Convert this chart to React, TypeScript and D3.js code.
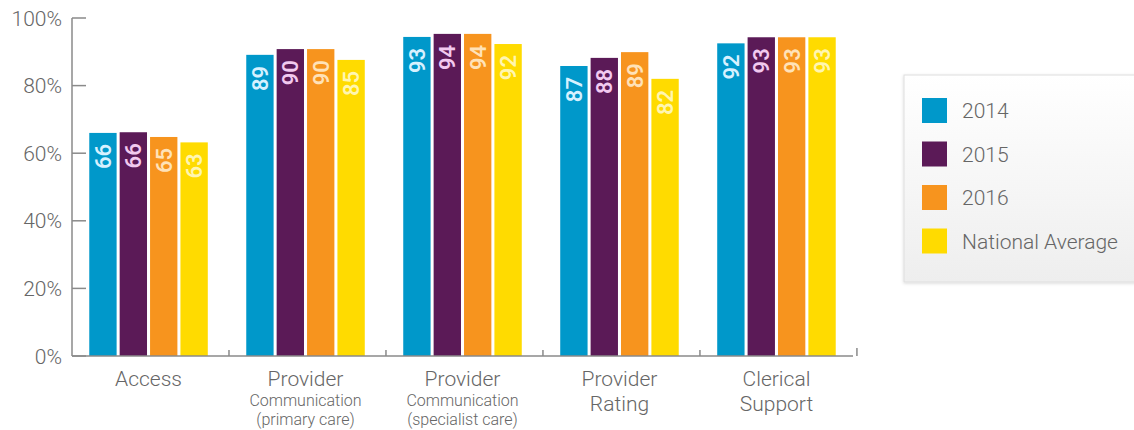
import * as React from 'react';
import * as d3 from 'd3';

// categories along the x axis (first line, optional smaller second/third lines)
const categories = ['Access', 'Provider Communication (primary care)', 'Provider Communication (specialist care)', 'Provider Rating', 'Clerical Support'];
const categoryLines: Array<Array<{ text: string, small: boolean }>> = [
    [{ text: 'Access', small: false }],
    [{ text: 'Provider', small: false }, { text: 'Communication', small: true }, { text: '(primary care)', small: true }],
    [{ text: 'Provider', small: false }, { text: 'Communication', small: true }, { text: '(specialist care)', small: true }],
    [{ text: 'Provider', small: false }, { text: 'Rating', small: false }],
    [{ text: 'Clerical', small: false }, { text: 'Support', small: false }],
];

const seriesNames = ['2014', '2015', '2016', 'National Average'];
const seriesColors = ['#0098ca', '#5b1a57', '#f7941e', '#ffdb00'];
const labelColors = ['#d6f1ff', '#f2c9ef', '#ffe2b8', '#fff6b0'];

// bar heights as drawn
const values2014 = [66.0, 89.1, 94.4, 85.8, 92.5];
const values2015 = [66.2, 90.8, 95.3, 88.2, 94.3];
const values2016 = [64.8, 90.8, 95.3, 89.9, 94.3];
const valuesNational = [63.2, 87.6, 92.3, 82.0, 94.3];

// numbers printed in the bars
const labels2014 = [66, 89, 93, 87, 92];
const labels2015 = [66, 90, 94, 88, 93];
const labels2016 = [65, 90, 94, 89, 93];
const labelsNational = [63, 85, 92, 82, 93];

const yTicks = [0, 20, 40, 60, 80, 100];

const seriesValues = [values2014, values2015, values2016, valuesNational];
const seriesLabels = [labels2014, labels2015, labels2016, labelsNational];

const width = 1134;
const height = 430;
const plot = { left: 72, right: 853, top: 18, bottom: 356 };
const font = 'Roboto, "Open Sans", sans-serif';
const axisColor = '#8a8a8a';
const textColor = '#666';

export default function App() {
    React.useEffect(() => {
        document.body.style.margin = '0';
    }, []);

    const x = d3.scaleBand<string>()
        .domain(categories)
        .range([plot.left, plot.right])
        .paddingInner(0.245)
        .paddingOuter(0.11);

    const xInner = d3.scaleBand<string>()
        .domain(seriesNames)
        .range([0, x.bandwidth()])
        .paddingInner(0.1)
        .paddingOuter(0);

    const y = d3.scaleLinear()
        .domain([0, 100])
        .range([plot.bottom, plot.top]);

    const step = x.step();
    const boundaries = categories.map((c, i) => plot.left + step * (i + 1));

    return <svg width={width} height={height} style={{ display: 'block', background: '#fff' }}>
        <defs>
            <linearGradient id="legendBg" x1="0" y1="0" x2="0" y2="1">
                <stop offset="0" stopColor="#ffffff" />
                <stop offset="1" stopColor="#eeeeee" />
            </linearGradient>
            <filter id="legendShadow" x="-10%" y="-10%" width="120%" height="125%">
                <feDropShadow dx="0" dy="1" stdDeviation="1.5" floodColor="#000" floodOpacity="0.15" />
            </filter>
        </defs>

        {/* y axis */}
        <g>
            <line x1={plot.left} x2={plot.left} y1={y(100)} y2={plot.bottom} stroke={axisColor} strokeWidth={1.5} />
            {yTicks.map(t => <g key={t}>
                <line x1={plot.left} x2={plot.left + 14} y1={y(t)} y2={y(t)} stroke={axisColor} strokeWidth={1.5} />
                <text x={62} y={y(t)} dy="0.36em" textAnchor="end" fontFamily={font} fontSize={21}
                    fontWeight={300} fill={textColor}>{t}%</text>
            </g>)}
        </g>

        {/* bars */}
        {categories.map((c, ci) => <g key={c} transform={`translate(${x(c)},0)`}>
            {seriesNames.map((s, si) => {
                const v = seriesValues[si][ci];
                const bx = xInner(s) as number;
                const bw = xInner.bandwidth();
                return <g key={s}>
                    <rect x={bx} y={y(v)} width={bw} height={plot.bottom - y(v)} fill={seriesColors[si]} />
                    <text transform={`translate(${bx + bw / 2},${y(v) + 11}) rotate(-90)`}
                        textAnchor="end" dy="0.36em" fontFamily={font} fontSize={22} fontWeight={600}
                        fill={labelColors[si]}>{seriesLabels[si][ci]}</text>
                </g>;
            })}
        </g>)}

        {/* x axis */}
        <g>
            <line x1={plot.left} x2={plot.right} y1={plot.bottom} y2={plot.bottom} stroke={axisColor} strokeWidth={1.5} />
            {boundaries.map((bx, i) => <line key={i} x1={bx} x2={bx} y1={plot.bottom}
                y2={plot.bottom - (i === boundaries.length - 1 ? 8 : 6)} stroke={axisColor} strokeWidth={1.5} />)}
            {categories.map((c, ci) => {
                const cx = (x(c) as number) + x.bandwidth() / 2;
                let yy = 378;
                return <g key={c}>
                    {categoryLines[ci].map((ln, li) => {
                        if (li > 0) yy += ln.small ? (li === 1 ? 22 : 19) : 25;
                        return <text key={li} x={cx} y={yy} dy="0.36em" textAnchor="middle" fontFamily={font}
                            fontSize={ln.small ? 16 : 21} fontWeight={300} fill={textColor}>{ln.text}</text>;
                    })}
                </g>;
            })}
        </g>

        {/* legend */}
        <g>
            <rect x={904} y={75} width={240} height={207} fill="url(#legendBg)" stroke="#dedede"
                filter="url(#legendShadow)" />
            {seriesNames.map((s, si) => <g key={s} transform={`translate(922,${98 + si * 43.5})`}>
                <rect width={25} height={25} fill={seriesColors[si]} />
                <text x={40} y={12.5} dy="0.36em" fontFamily={font} fontSize={21} fontWeight={300}
                    fill={textColor}>{s}</text>
            </g>)}
        </g>
    </svg>;
}
